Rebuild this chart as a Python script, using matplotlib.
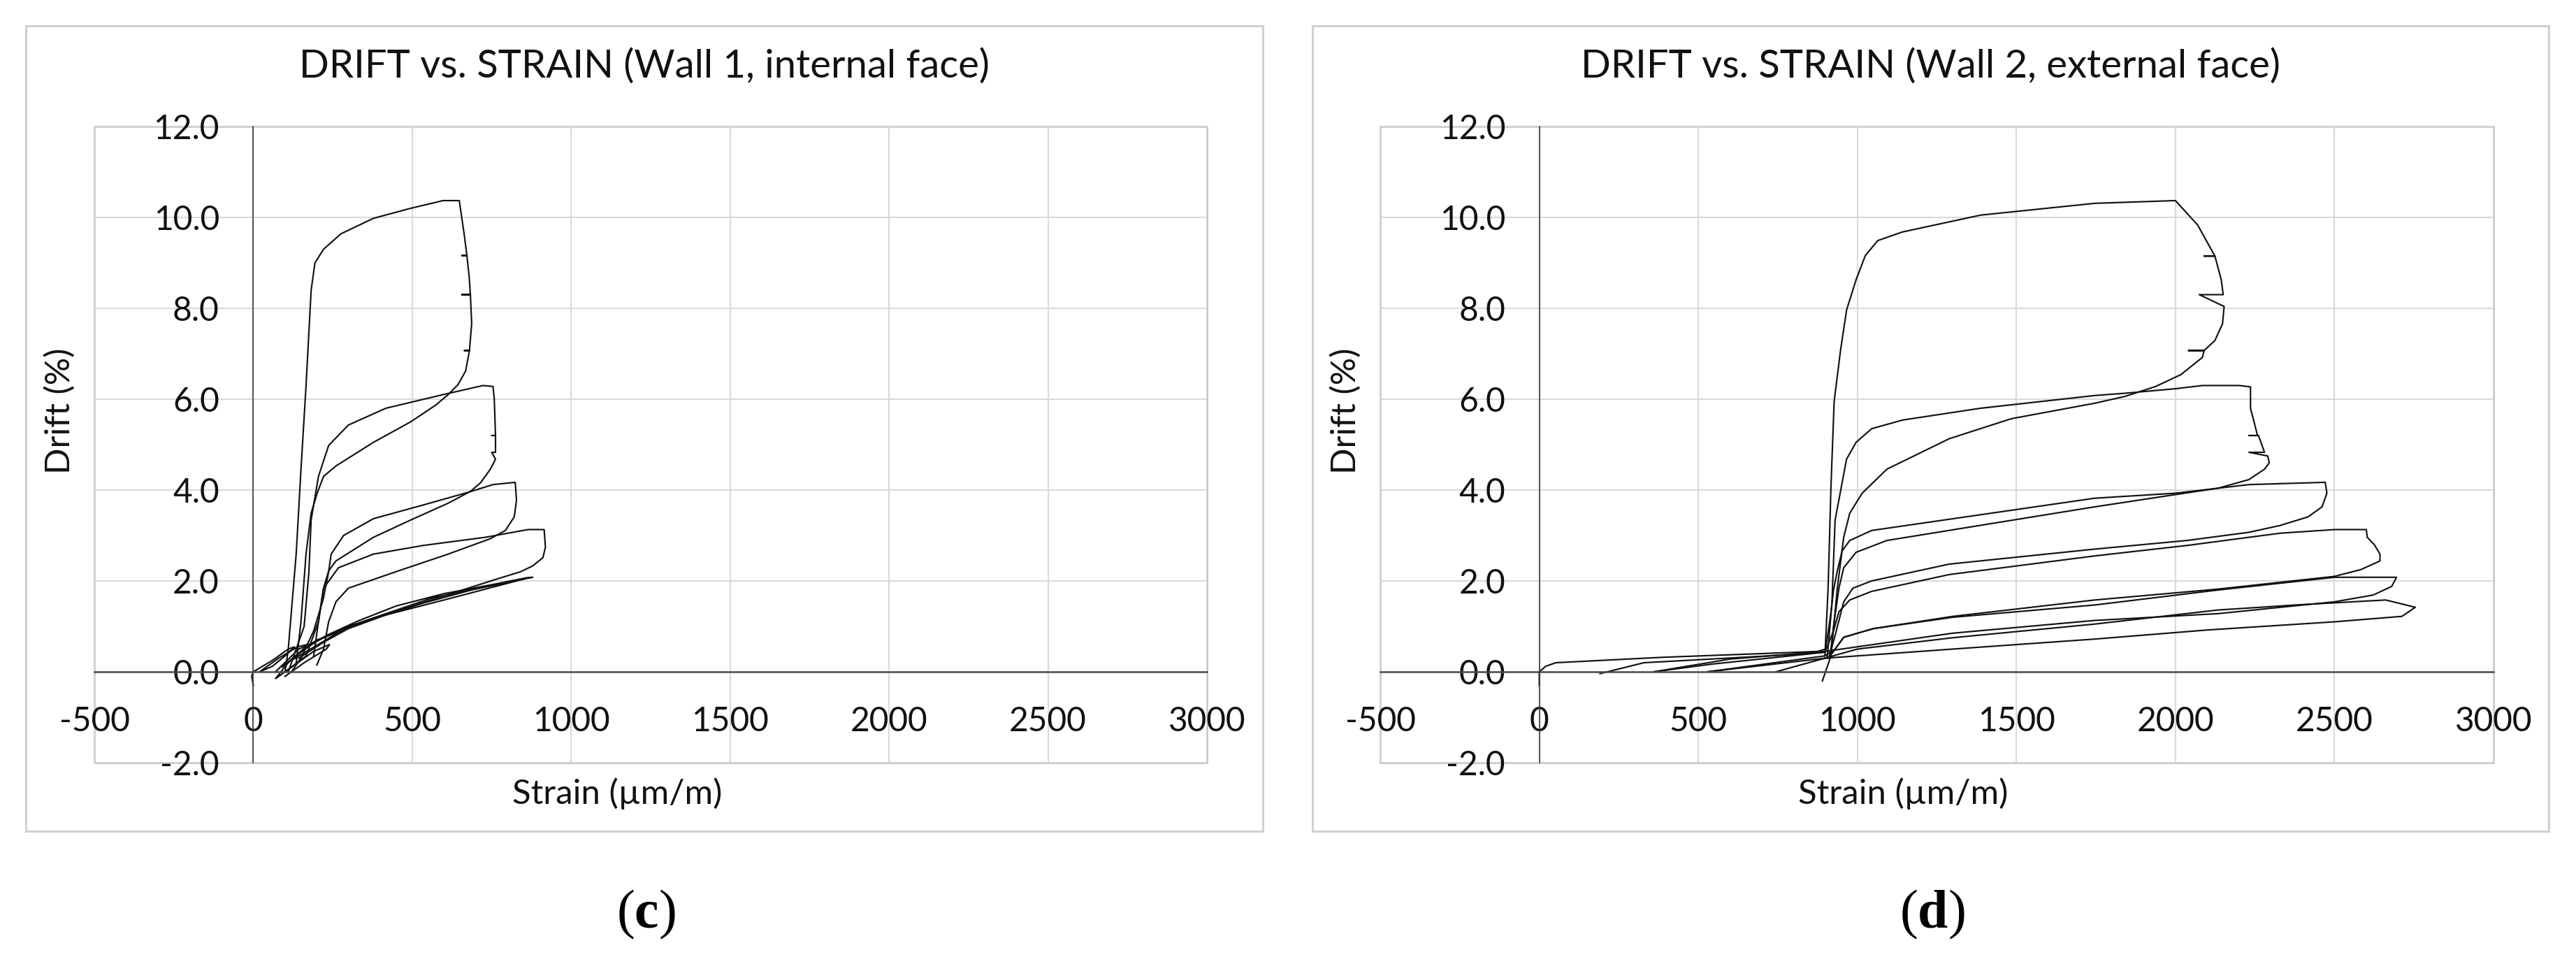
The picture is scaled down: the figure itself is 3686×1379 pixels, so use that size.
import numpy as np
import matplotlib
matplotlib.use("Agg")
import matplotlib.pyplot as plt
from matplotlib.patches import Rectangle

plt.rcParams['font.family'] = ['Lato', 'DejaVu Sans']
plt.rcParams['axes.unicode_minus'] = False
plt.rcParams['mathtext.fontset'] = 'custom'
plt.rcParams['mathtext.rm'] = 'Liberation Serif'
plt.rcParams['mathtext.bf'] = 'Liberation Serif:bold'

# ---- Wall 1, internal face: strain (um/m) / drift (%) ----
w1_init_strain = [0, -5, 0, 60, 110, 130, 100, 60, 20, 80, 140, 170, 150, 110, 70, 130, 190, 240, 230, 160, 100]
w1_init_drift = [-0.3, -0.1, 0.0, 0.25, 0.5, 0.55, 0.35, 0.12, 0.0, 0.3, 0.55, 0.6, 0.45, 0.2, -0.15, 0.15, 0.45, 0.6, 0.5, 0.2, -0.1]

w1_c1_strain = [70, 143, 260, 378, 534, 691, 800, 879, 860, 760, 600, 450, 330, 230, 150, 90,
                200, 400, 600, 850, 840, 560, 300, 120]
w1_c1_drift = [0.0, 0.5, 0.87, 1.17, 1.51, 1.81, 1.97, 2.08, 2.07, 1.93, 1.72, 1.45, 1.12, 0.8, 0.45, 0.1,
               0.7, 1.22, 1.58, 2.04, 2.03, 1.62, 1.0, 0.25]

w1_c2_strain = [100, 166, 205, 221, 268, 378, 534, 730, 864, 915, 919, 911, 879, 840, 770, 613, 456, 299, 221, 143]
w1_c2_drift = [0.0, 0.35, 1.1, 1.84, 2.29, 2.59, 2.78, 2.96, 3.13, 3.13, 2.74, 2.51, 2.33, 2.2, 2.05, 1.7, 1.35, 0.95, 0.65, 0.3]

w1_c3_strain = [120, 150, 190, 220, 237, 245, 284, 378, 534, 676, 754, 824, 828, 821, 793, 746, 613, 456, 299, 260, 237, 221, 200]
w1_c3_drift = [0.0, 0.3, 0.9, 1.6, 2.2, 2.59, 3.0, 3.37, 3.67, 3.95, 4.12, 4.17, 3.78, 3.41, 3.11, 2.93, 2.59, 2.22, 1.84, 1.54, 1.1, 0.5, 0.15]

w1_c4_strain = [110, 160, 175, 182, 205, 237, 299, 417, 597, 691, 723, 754, 758, 762, 750, 762, 762, 750, 762,
                746, 715, 683, 613, 495, 378, 260, 237, 221, 205, 190]
w1_c4_drift = [0.0, 1.0, 2.2, 3.34, 4.3, 4.98, 5.43, 5.8, 6.1, 6.25, 6.3, 6.28, 6.02, 5.2, 5.2, 5.2, 4.83, 4.83, 4.68,
               4.46, 4.16, 3.97, 3.71, 3.34, 2.96, 2.44, 2.22, 1.84, 1.1, 0.35]

w1_c5_strain = [100, 110, 135, 150, 166, 182, 194, 221, 276, 378, 495, 597, 648,
                664, 672, 656, 672, 679, 683, 656, 683, 687, 680, 664, 680, 668, 644, 613, 574,
                495, 378, 260, 221, 201, 182, 166, 150, 135]
w1_c5_drift = [0.0, 0.5, 2.6, 4.45, 6.3, 8.4, 9.0, 9.3, 9.64, 9.98, 10.2, 10.37, 10.37,
               9.6, 9.16, 9.16, 9.16, 8.7, 8.3, 8.3, 8.3, 7.66, 7.07, 7.07, 7.07, 6.62, 6.32, 6.1, 5.87,
               5.5, 5.05, 4.53, 4.3, 3.93, 3.49, 2.6, 1.1, 0.2]

# ---- Wall 2, external face ----
w2_init_strain = [0, 0, 20, 52, 391, 698, 883]
w2_init_drift = [-0.3, 0.0, 0.12, 0.2, 0.32, 0.4, 0.45]

w2_c1_strain = [744, 898, 1000, 1300, 1746, 2134, 2400, 2661, 2754, 2712, 2500, 2100, 1746, 1300, 900, 529]
w2_c1_drift = [0.0, 0.3, 0.5, 0.75, 1.05, 1.36, 1.48, 1.58, 1.42, 1.22, 1.1, 0.92, 0.72, 0.5, 0.3, 0.0]

w2_c2_strain = [529, 698, 898, 930, 957, 1050, 1300, 1746, 2134, 2500, 2695, 2680, 2622, 2500, 2134, 1746, 1300, 900, 600, 360]
w2_c2_drift = [0.0, 0.16, 0.35, 0.5, 0.76, 0.95, 1.2, 1.47, 1.8, 2.08, 2.08, 1.88, 1.69, 1.54, 1.28, 1.13, 0.85, 0.45, 0.28, 0.0]

w2_c3_strain = [360, 544, 898, 925, 942, 976, 1045, 1289, 1746, 2036, 2329, 2500, 2600, 2603, 2625, 2643, 2643, 2583,
                2500, 2134, 1746, 1300, 1050, 957, 920]
w2_c3_drift = [0.0, 0.17, 0.43, 0.9, 1.32, 1.58, 1.77, 2.14, 2.55, 2.78, 3.05, 3.13, 3.13, 2.96, 2.8, 2.59, 2.44, 2.25,
               2.1, 1.82, 1.58, 1.22, 0.95, 0.76, 0.4]

w2_c4_strain = [191, 329, 852, 900, 915, 925, 937, 952, 976, 1045, 1746, 2000, 2231, 2471,
                2476, 2461, 2417, 2329, 2231, 2036, 1746, 1289, 1045, 986, 957, 930, 910]
w2_c4_drift = [-0.04, 0.2, 0.4, 0.5, 1.2, 1.8, 2.22, 2.66, 2.89, 3.11, 3.82, 3.93, 4.12, 4.17,
               3.93, 3.63, 3.41, 3.22, 3.07, 2.89, 2.7, 2.37, 2.0, 1.84, 1.54, 0.8, 0.3]

w2_c5_strain = [905, 920, 930, 966, 996, 1045, 1142, 1387, 1746, 1841, 2000, 2085, 2202, 2236,
                2236, 2258, 2231, 2261, 2280, 2231, 2290, 2295, 2280, 2231, 2134, 2000, 1746,
                1093, 996, 957, 942, 925, 915]
w2_c5_drift = [0.3, 1.5, 3.34, 4.68, 5.05, 5.35, 5.54, 5.8, 6.08, 6.13, 6.23, 6.3, 6.3, 6.27,
               5.8, 5.2, 5.2, 5.2, 4.83, 4.83, 4.75, 4.6, 4.46, 4.23, 4.04, 3.9, 3.63,
               2.89, 2.63, 2.29, 1.84, 1.0, 0.4]

w2_c6_strain = [898, 908, 917, 927, 947, 966, 996, 1025, 1064, 1142, 1387, 1746, 2000,
                2070, 2124, 2090, 2124, 2144, 2150, 2075, 2153, 2148, 2124, 2090, 2041, 2090, 2085,
                2017, 1938, 1841, 1746, 1484, 1289, 1093, 1015, 976, 957, 937, 917, 890]
w2_c6_drift = [0.35, 1.84, 4.08, 5.95, 7.07, 7.96, 8.63, 9.16, 9.49, 9.68, 10.05, 10.31, 10.37,
               9.83, 9.15, 9.15, 9.15, 8.63, 8.3, 8.3, 8.04, 7.66, 7.29, 7.07, 7.07, 7.07, 6.92,
               6.54, 6.28, 6.06, 5.91, 5.57, 5.13, 4.46, 3.93, 3.49, 2.96, 1.84, 0.35, -0.2]

wall1 = [(w1_init_strain, w1_init_drift), (w1_c1_strain, w1_c1_drift), (w1_c2_strain, w1_c2_drift),
         (w1_c3_strain, w1_c3_drift), (w1_c4_strain, w1_c4_drift), (w1_c5_strain, w1_c5_drift)]
wall2 = [(w2_init_strain, w2_init_drift), (w2_c1_strain, w2_c1_drift), (w2_c2_strain, w2_c2_drift),
         (w2_c3_strain, w2_c3_drift), (w2_c4_strain, w2_c4_drift), (w2_c5_strain, w2_c5_drift),
         (w2_c6_strain, w2_c6_drift)]

x_ticks = [-500, 0, 500, 1000, 1500, 2000, 2500, 3000]
y_ticks = [-2.0, 0.0, 2.0, 4.0, 6.0, 8.0, 10.0, 12.0]

titles = ["DRIFT vs. STRAIN (Wall 1, internal face)", "DRIFT vs. STRAIN (Wall 2, external face)"]
panel_tags = [r"($\mathbf{c}$)", r"($\mathbf{d}$)"]

W, H = 3686, 1379
fig = plt.figure(figsize=(W / 100, H / 100), dpi=100)

def px_x(v):
    return v / W

def px_y(v):
    return 1 - v / H

panels = [
    # plot area left/right, outer box left/right (pixels)
    dict(pl=135, pr=1727, box_l=37, box_r=1807, data=wall1),
    dict(pl=1975, pr=3568, box_l=1878, box_r=3647, data=wall2),
]
pt, pb = 181, 1091
box_t, box_b = 37, 1189

for i, p in enumerate(panels):
    # chart area box
    fig.add_artist(Rectangle((px_x(p['box_l']), px_y(box_b)),
                             px_x(p['box_r'] - p['box_l']), (box_b - box_t) / H,
                             transform=fig.transFigure, fill=False,
                             edgecolor='#d0d0d0', lw=2.2))

    ax = fig.add_axes([px_x(p['pl']), px_y(pb), px_x(p['pr'] - p['pl']), (pb - pt) / H])
    ax.set_xlim(-500, 3000)
    ax.set_ylim(-2, 12)
    ax.set_xticks(x_ticks)
    ax.set_yticks(y_ticks)
    ax.set_yticklabels([f"{v:.1f}" for v in y_ticks])
    ax.set_axisbelow(True)
    ax.grid(True, color='#d9d9d9', lw=1.5)

    for side in ['top', 'right']:
        ax.spines[side].set_visible(False)
    ax.spines['left'].set_position(('data', 0))
    ax.spines['bottom'].set_position(('data', 0))
    ax.spines['left'].set_color('#3a3a3a')
    ax.spines['left'].set_linewidth(1.2)
    ax.spines['bottom'].set_color('#4a4a4a')
    ax.spines['bottom'].set_linewidth(1.8)
    ax.add_patch(Rectangle((0, 0), 1, 1, transform=ax.transAxes, fill=False,
                           edgecolor='#c8c8c8', lw=2.0, zorder=0.5, clip_on=False))
    ax.tick_params(length=0, pad=35, labelsize=34.5, labelcolor='#111111')

    for sx, dy in p['data']:
        ax.plot(sx, dy, color='#111111', lw=1.55, solid_joinstyle='round')

    cx = (p['box_l'] + p['box_r']) / 2
    fig.text(px_x(cx), px_y(95), titles[i], ha='center', va='center',
             fontsize=40.5, color='#111111')
    fig.text(px_x(p['pl'] + 748), px_y(1135), "Strain (µm/m)", ha='center', va='center',
             fontsize=35.5, color='#111111')
    fig.text(px_x(p['pl'] - 50), px_y(588), "Drift (%)", ha='center', va='center',
             rotation=90, fontsize=35.5, color='#111111')
    fig.text(px_x(cx + 2), px_y(1308), panel_tags[i], ha='center', va='center',
             fontsize=56, family='Liberation Serif', color='black')

fig.savefig("out.png", dpi=100, facecolor='white')
